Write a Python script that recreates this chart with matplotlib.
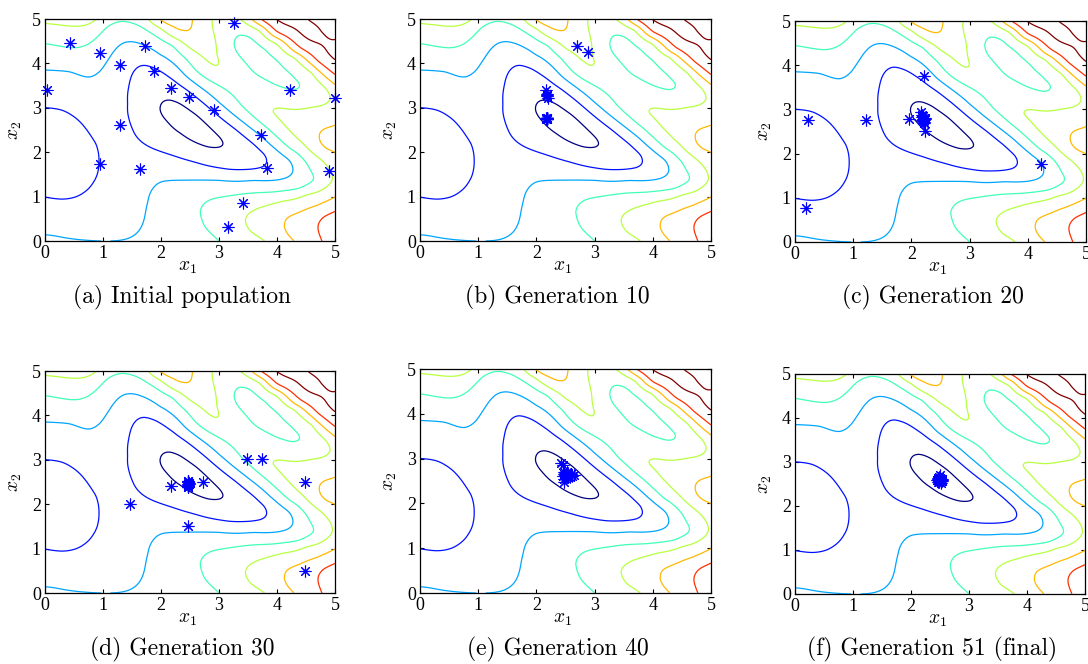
import numpy as np
import matplotlib
matplotlib.use("Agg")
import matplotlib.pyplot as plt

plt.rcParams['mathtext.fontset'] = 'cm'

# ---- contour traces: (x1, x2) points on each level ----
lev1 = [(1.98, 2.95), (2.01, 3.10), (2.15, 3.18), (2.35, 3.08), (2.60, 2.85), (2.85, 2.55),
        (3.02, 2.33), (3.08, 2.20), (3.00, 2.12), (2.80, 2.12), (2.58, 2.23), (2.35, 2.42), (2.12, 2.68)]
lev2 = [(1.45, 3.50), (1.55, 3.85), (1.70, 3.97), (1.92, 3.88), (2.20, 3.64), (2.44, 3.41), (2.80, 3.03),
        (3.30, 2.50), (3.60, 2.18), (3.79, 1.95), (3.82, 1.80), (3.72, 1.65), (3.50, 1.61), (3.20, 1.61),
        (2.90, 1.67), (2.58, 1.78), (2.20, 1.93), (1.80, 2.12), (1.55, 2.40), (1.45, 2.75), (1.43, 3.10),
        (0.00, 3.00), (0.30, 2.95), (0.55, 2.75), (0.75, 2.45), (0.88, 2.20), (0.93, 1.82), (0.89, 1.45),
        (0.77, 1.20), (0.55, 1.00), (0.30, 0.94), (0.00, 0.99)]
lev3 = [(0.00, 3.85), (0.43, 3.82), (0.77, 3.68), (0.97, 3.85), (1.10, 4.10), (1.23, 4.34), (1.46, 4.49),
        (1.63, 4.45), (1.98, 4.19), (2.44, 3.70), (3.00, 3.12), (3.53, 2.56), (3.90, 2.15), (4.22, 1.82),
        (4.28, 1.60), (4.10, 1.40), (3.60, 1.37), (3.00, 1.37), (2.44, 1.37), (2.00, 1.34), (1.86, 1.18),
        (1.78, 0.90), (1.72, 0.55), (1.63, 0.25), (1.46, 0.07), (1.25, 0.01), (1.00, 0.00), (0.70, 0.02),
        (0.35, 0.07), (0.00, 0.14)]
lev4 = [(0.00, 4.45), (0.30, 4.38), (0.54, 4.35), (0.77, 4.45), (1.06, 4.82), (1.29, 4.95), (1.52, 4.90),
        (1.80, 4.71), (2.20, 4.41), (2.44, 4.10), (3.00, 3.50), (3.40, 3.03), (3.82, 2.56), (4.20, 2.10),
        (4.56, 1.60), (4.64, 1.37), (4.39, 1.18), (3.90, 1.10), (3.47, 1.07), (3.10, 1.00), (2.84, 0.93),
        (2.67, 0.66), (2.75, 0.33), (2.90, 0.12), (3.01, 0.00),
        (3.30, 4.63), (3.45, 4.62), (3.65, 4.45), (3.87, 4.19), (4.10, 3.90), (4.30, 3.65), (4.39, 3.52),
        (4.36, 3.42), (4.25, 3.40), (4.00, 3.50), (3.76, 3.67), (3.50, 3.95), (3.30, 4.25), (3.25, 4.45)]
lev5 = [(0.00, 4.90), (0.25, 4.87), (0.50, 4.84), (0.70, 4.86), (0.82, 4.92), (0.90, 5.00),
        (1.80, 5.00), (2.00, 4.80), (2.20, 4.60), (2.50, 4.33), (2.75, 4.10), (2.90, 3.96), (2.98, 3.92),
        (3.00, 4.00), (2.96, 4.41), (2.90, 4.70), (2.87, 5.00),
        (3.38, 5.00), (3.70, 4.75), (4.00, 4.45), (4.30, 4.15), (4.60, 3.80), (4.85, 3.44), (4.92, 3.25),
        (4.85, 3.10), (4.60, 3.02), (4.33, 2.96), (4.05, 3.00), (3.93, 2.97), (3.92, 2.90), (4.16, 2.56),
        (4.45, 2.20), (4.75, 1.85), (4.93, 1.55), (4.96, 1.38), (4.85, 1.22), (4.50, 1.05), (4.10, 0.90),
        (3.70, 0.75), (3.50, 0.60), (3.45, 0.45), (3.55, 0.20), (3.80, 0.00)]
lev6 = [(1.93, 5.00), (2.10, 4.88), (2.30, 4.76), (2.45, 4.72), (2.52, 4.80), (2.55, 5.00),
        (3.56, 5.00), (3.90, 4.65), (4.30, 4.25), (4.70, 3.85), (5.00, 3.52),
        (5.00, 2.60), (4.80, 2.52), (4.73, 2.40), (4.75, 2.20), (4.85, 2.07), (5.00, 2.00),
        (5.00, 0.99), (4.70, 0.80), (4.40, 0.65), (4.15, 0.50), (4.12, 0.30), (4.20, 0.12), (4.30, 0.00)]
lev7 = [(3.70, 5.00), (4.00, 4.70), (4.40, 4.35), (4.70, 4.05), (5.00, 3.74),
        (5.00, 0.67), (4.80, 0.55), (4.72, 0.40), (4.72, 0.20), (4.78, 0.00)]
lev8 = [(3.97, 5.00), (4.40, 4.68), (4.80, 4.38), (5.00, 4.08),
        (4.47, 5.00), (4.74, 4.71), (4.97, 4.49)]
# a few interior values (extrema and between-line spots)
extra = [(2.55, 2.62, 0.7), (0.15, 1.95, 1.5), (1.20, 2.40, 2.3), (2.35, 5.00, 6.3), (3.80, 4.05, 3.7),
         (5.00, 2.30, 6.3), (4.62, 4.68, 8.25), (4.25, 5.00, 8.2), (5.00, 4.27, 8.2), (5.00, 5.00, 7.6),
         (5.00, 0.00, 7.5), (5.00, 3.20, 5.2), (3.15, 4.70, 4.6), (1.20, 1.00, 2.6), (2.40, 0.50, 3.5),
         (4.00, 0.40, 5.7), (3.20, 0.30, 4.5), (0.00, 0.00, 3.15)]

# ---- populations ----
pop_a_x = [0.43, 0.95, 1.29, 1.72, 0.03, 1.88, 2.18, 2.49, 2.92, 1.29, 0.95, 1.64, 3.25, 4.22, 5.00, 3.72, 3.82, 4.90, 3.41, 3.16]
pop_a_y = [4.47, 4.23, 3.96, 4.39, 3.40, 3.83, 3.44, 3.25, 2.96, 2.62, 1.73, 1.62, 4.92, 3.40, 3.23, 2.38, 1.65, 1.58, 0.86, 0.32]
pop_b_x = [2.69, 2.89, 2.17, 2.19, 2.19, 2.20, 2.19, 2.18, 2.18, 2.19, 2.18, 2.17, 2.19, 2.18, 2.18, 2.19, 2.18, 2.18, 2.17, 2.19]
pop_b_y = [4.39, 4.26, 3.40, 3.30, 3.26, 3.23, 3.28, 2.76, 2.75, 2.77, 2.76, 2.74, 2.76, 2.77, 2.75, 2.76, 2.78, 2.74, 2.76, 2.75]
pop_c_x = [0.22, 0.19, 1.22, 1.96, 2.22, 4.23, 2.17, 2.20, 2.22, 2.19, 2.21, 2.23, 2.18, 2.20, 2.22, 2.19, 2.21, 2.23, 2.20, 2.23]
pop_c_y = [2.76, 0.76, 2.76, 2.78, 3.76, 1.77, 2.93, 2.85, 2.80, 2.76, 2.72, 2.78, 2.82, 2.74, 2.76, 2.88, 2.70, 2.80, 2.78, 2.51]
pop_d_x = [1.47, 2.18, 2.47, 2.47, 2.47, 2.73, 2.47, 3.48, 3.74, 4.48, 4.48, 2.47, 2.47, 2.48, 2.46, 2.47, 2.47, 2.48, 2.47, 2.46]
pop_d_y = [2.00, 2.40, 2.52, 2.45, 2.38, 2.50, 1.50, 3.01, 3.01, 2.50, 0.50, 2.50, 2.40, 2.48, 2.43, 2.52, 2.38, 2.45, 2.50, 2.40]
pop_e_x = [2.43, 2.45, 2.48, 2.52, 2.55, 2.60, 2.65, 2.47, 2.50, 2.53, 2.45, 2.58, 2.50, 2.52, 2.49, 2.55, 2.47, 2.62, 2.51, 2.48]
pop_e_y = [2.91, 2.86, 2.65, 2.68, 2.62, 2.66, 2.64, 2.55, 2.60, 2.70, 2.62, 2.60, 2.66, 2.58, 2.63, 2.67, 2.48, 2.62, 2.64, 2.70]
pop_f_x = [2.49, 2.46, 2.52, 2.50, 2.47, 2.53, 2.48, 2.51, 2.45, 2.54, 2.49, 2.50, 2.47, 2.52, 2.48, 2.51, 2.50, 2.46, 2.53, 2.49]
pop_f_y = [2.59, 2.62, 2.56, 2.64, 2.55, 2.60, 2.66, 2.52, 2.58, 2.61, 2.57, 2.60, 2.63, 2.62, 2.54, 2.58, 2.70, 2.60, 2.57, 2.61]

captions = ['(a) Initial population', '(b) Generation 10', '(c) Generation 20',
            '(d) Generation 30', '(e) Generation 40', '(f) Generation 51 (final)']
pops = [(pop_a_x, pop_a_y), (pop_b_x, pop_b_y), (pop_c_x, pop_c_y),
        (pop_d_x, pop_d_y), (pop_e_x, pop_e_y), (pop_f_x, pop_f_y)]


# ---- smooth surface through the traced contour points (thin plate spline) ----
def tps(px, py, pz, gx, gy, lam=0.02):
    pts = np.column_stack([px, py])
    n = len(px)
    d = np.sqrt(((pts[:, None, :] - pts[None, :, :]) ** 2).sum(-1))
    K = np.where(d > 0, d ** 2 * np.log(np.maximum(d, 1e-12)), 0.0)
    P = np.column_stack([np.ones(n), px, py])
    A = np.zeros((n + 3, n + 3))
    A[:n, :n] = K + lam * np.eye(n)
    A[:n, n:] = P
    A[n:, :n] = P.T
    sol = np.linalg.solve(A, np.concatenate([pz, np.zeros(3)]))
    w, a = sol[:n], sol[n:]
    G = np.column_stack([gx.ravel(), gy.ravel()])
    dg = np.sqrt(((G[:, None, :] - pts[None, :, :]) ** 2).sum(-1))
    Kg = np.where(dg > 0, dg ** 2 * np.log(np.maximum(dg, 1e-12)), 0.0)
    z = Kg @ w + a[0] + a[1] * G[:, 0] + a[2] * G[:, 1]
    return z.reshape(gx.shape)


px, py, pz = [], [], []
for k, lev in enumerate([lev1, lev2, lev3, lev4, lev5, lev6, lev7, lev8], start=1):
    for x, y in lev:
        px.append(x); py.append(y); pz.append(k)
for x, y, z in extra:
    px.append(x); py.append(y); pz.append(z)
px, py, pz = np.array(px), np.array(py), np.array(pz, dtype=float)

g = np.linspace(0, 5, 161)
GX, GY = np.meshgrid(g, g)
Z = tps(px, py, pz, GX, GY)

levels = np.arange(1, 9)
colors = [plt.cm.jet(i / 7) for i in range(8)]

W, H = 1088, 664
fig = plt.figure(figsize=(W / 100, H / 100), dpi=100)
boxes = [(45, 19, 335, 241), (420, 19, 711, 241), (795, 21, 1086, 242),
         (45, 371, 335, 593), (420, 369, 711, 593), (795, 374, 1085, 594)]
cap_y = [297, 297, 297, 649, 649, 649]

star = (8, 2, 0)
for i, (l, t, r, b) in enumerate(boxes):
    ax = fig.add_axes([l / W, 1 - b / H, (r - l) / W, (b - t) / H])
    ax.contour(GX, GY, Z, levels=levels, colors=colors, linewidths=0.9)
    ax.plot(pops[i][0], pops[i][1], linestyle='none', marker=star, color='blue',
            markersize=8.5, markeredgewidth=0.8, clip_on=False)
    ax.set_xlim(0, 5)
    ax.set_ylim(0, 5)
    ax.set_xticks(range(6))
    ax.set_yticks(range(6))
    ax.tick_params(direction='in', top=True, right=True, length=3, width=0.8, pad=3)
    for lab in ax.get_xticklabels() + ax.get_yticklabels():
        lab.set_fontfamily('Liberation Serif')
        lab.set_fontsize(13)
    for s in ax.spines.values():
        s.set_linewidth(0.9)
    ax.text(0.49, -0.115, '$x_1$', transform=ax.transAxes, ha='center', va='center', fontsize=14)
    ax.text(-0.105, 0.5, '$x_2$', transform=ax.transAxes, ha='center', va='center',
            fontsize=14, rotation=90)
    fig.text(((l + r) / 2 - 8) / W, 1 - cap_y[i] / H, captions[i], ha='center', va='center',
             fontfamily='cmr10', fontsize=17)

fig.savefig('out.png', dpi=100)
